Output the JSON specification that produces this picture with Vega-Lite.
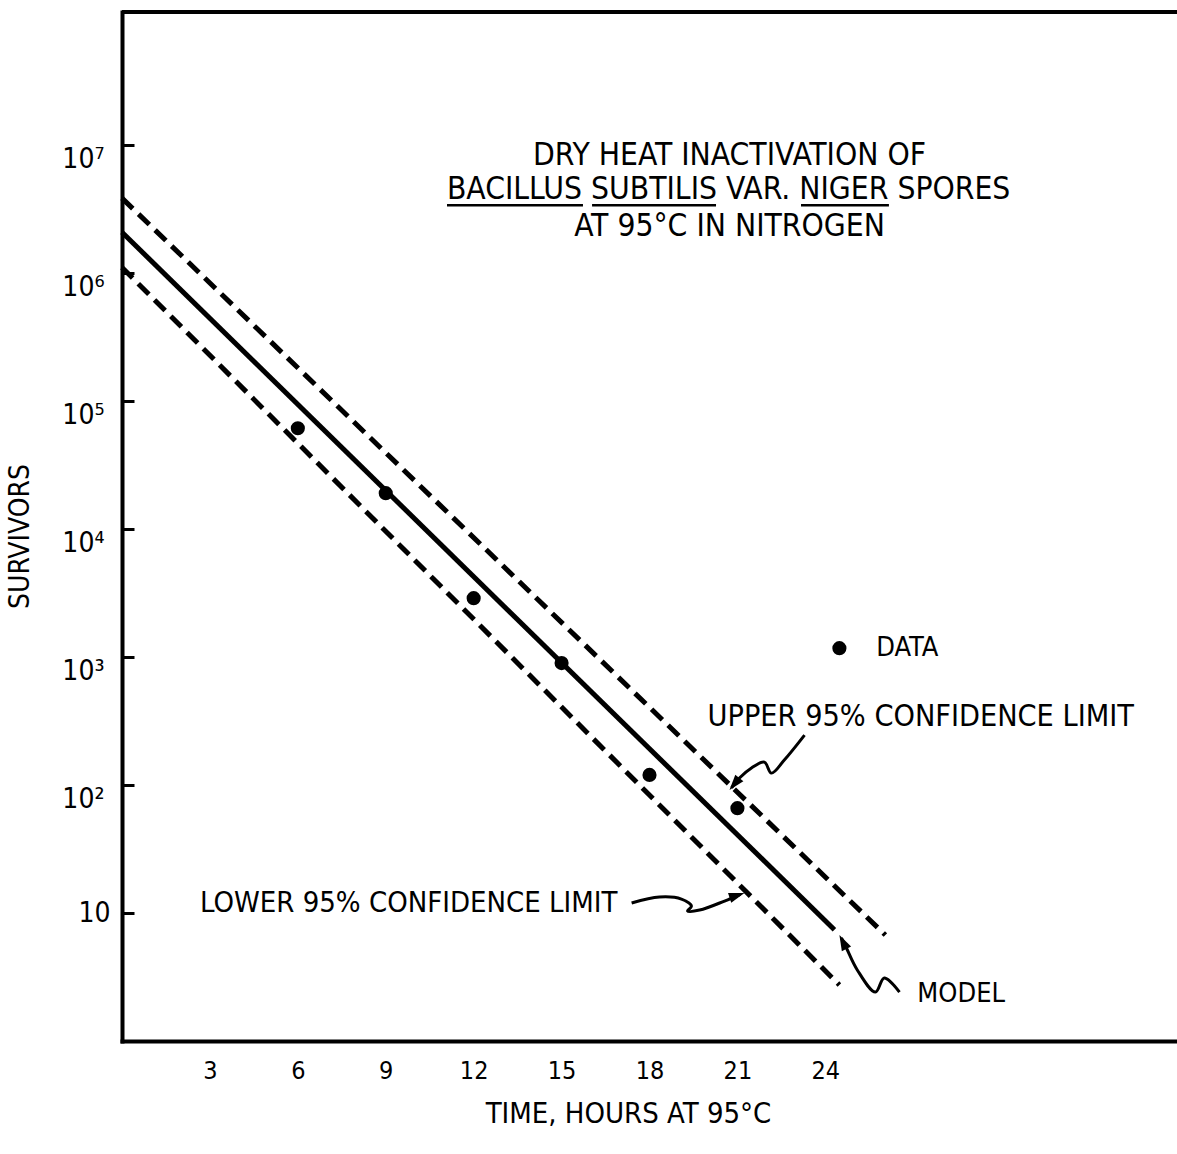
{
  "$schema": "https://vega.github.io/schema/vega-lite/v6.json",
  "width": 1055,
  "height": 1029,
  "autosize": {"type": "none"},
  "padding": {"left": 122, "top": 12, "right": 0, "bottom": 113},
  "background": "white",
  "config": {"view": {"stroke": null}, "font": "DejaVu Sans Condensed"},
  "datasets": {
    "fit": [
      {"series": "upper", "time": 0, "survivors": 3860000},
      {"series": "upper", "time": 26.05, "survivors": 6.73},
      {"series": "lower", "time": 0, "survivors": 1110000},
      {"series": "lower", "time": 24.48, "survivors": 2.74},
      {"series": "model", "time": 0, "survivors": 2090000},
      {"series": "model", "time": 24.31, "survivors": 7.4}
    ],
    "observed": [
      {"time": 6, "survivors": 61500},
      {"time": 9, "survivors": 19100},
      {"time": 12, "survivors": 2890},
      {"time": 15, "survivors": 898},
      {"time": 18, "survivors": 120},
      {"time": 21, "survivors": 66}
    ],
    "legend": [{"time": 24.48, "survivors": 1175}],
    "arrows": [
      {"arrow": "upper", "seq": 1, "time": 23.29, "survivors": 246},
      {"arrow": "upper", "seq": 2, "time": 22.6, "survivors": 157},
      {"arrow": "upper", "seq": 3, "time": 22.16, "survivors": 124},
      {"arrow": "upper", "seq": 4, "time": 21.92, "survivors": 151},
      {"arrow": "upper", "seq": 5, "time": 21.48, "survivors": 136},
      {"arrow": "upper", "seq": 6, "time": 21.07, "survivors": 113.5},
      {"arrow": "upper", "seq": 7, "time": 20.8, "survivors": 95},
      {"arrow": "lower", "seq": 1, "time": 17.39, "survivors": 11.97},
      {"arrow": "lower", "seq": 2, "time": 18.34, "survivors": 13.34},
      {"arrow": "lower", "seq": 3, "time": 19.09, "survivors": 12.86},
      {"arrow": "lower", "seq": 4, "time": 19.43, "survivors": 11.35},
      {"arrow": "lower", "seq": 5, "time": 19.3, "survivors": 10.37},
      {"arrow": "lower", "seq": 6, "time": 19.71, "survivors": 10.55},
      {"arrow": "lower", "seq": 7, "time": 20.56, "survivors": 12.41},
      {"arrow": "lower", "seq": 8, "time": 21.1, "survivors": 14.0},
      {"arrow": "model", "seq": 1, "time": 26.53, "survivors": 2.41},
      {"arrow": "model", "seq": 2, "time": 26.01, "survivors": 3.11},
      {"arrow": "model", "seq": 3, "time": 25.71, "survivors": 2.41},
      {"arrow": "model", "seq": 4, "time": 25.09, "survivors": 3.59},
      {"arrow": "model", "seq": 5, "time": 24.72, "survivors": 5.33},
      {"arrow": "model", "seq": 6, "time": 24.55, "survivors": 6.4}
    ],
    "heads": [
      {"arrow": "upper", "time": 20.73, "survivors": 91.4},
      {"arrow": "lower", "time": 21.24, "survivors": 14.33},
      {"arrow": "model", "time": 24.48, "survivors": 6.73}
    ],
    "titleLines": [
      {"label": "DRY HEAT INACTIVATION OF", "time": 20.73, "survivors": 8200000},
      {"label": "BACILLUS SUBTILIS VAR. NIGER SPORES", "time": 20.7, "survivors": 4450000},
      {"label": "AT 95°C IN NITROGEN", "time": 20.73, "survivors": 2290000}
    ],
    "underlines": [
      {"word": "BACILLUS", "time": 11.09, "time2": 15.73, "survivors": 3400000},
      {"word": "SUBTILIS", "time": 16.04, "time2": 20.27, "survivors": 3400000},
      {"word": "NIGER", "time": 23.17, "time2": 26.17, "survivors": 3400000}
    ],
    "upperNote": [
      {"label": "UPPER 95% CONFIDENCE LIMIT", "time": 19.98, "survivors": 340}
    ],
    "lowerNote": [
      {"label": "LOWER 95% CONFIDENCE LIMIT", "time": 2.66, "survivors": 11.97}
    ],
    "smallNotes": [
      {"label": "DATA", "time": 25.74, "survivors": 1175},
      {"label": "MODEL", "time": 27.14, "survivors": 2.33}
    ],
    "frame": [{"time": 0, "time2": 36, "survivors": 110000000}]
  },
  "encoding": {
    "x": {
      "field": "time",
      "type": "quantitative",
      "scale": {"domain": [0, 36], "nice": false, "zero": false},
      "axis": {
        "values": [3, 6, 9, 12, 15, 18, 21, 24],
        "ticks": false,
        "grid": false,
        "domain": true,
        "domainColor": "black",
        "domainWidth": 4,
        "domainCap": "square",
        "labelFontSize": 25,
        "labelColor": "black",
        "labelPadding": 17,
        "labelOverlap": false,
        "labelFlush": false,
        "title": "TIME, HOURS AT 95°C",
        "titleFontSize": 29,
        "titleFontWeight": "normal",
        "titleColor": "black",
        "titleX": 506,
        "titleY": 72,
        "titleBaseline": "middle",
        "titleAlign": "center"
      }
    },
    "y": {
      "field": "survivors",
      "type": "quantitative",
      "scale": {"type": "log", "domain": [1, 110000000], "nice": false},
      "axis": {
        "values": [10, 100, 1000, 10000, 100000, 1000000, 10000000],
        "labelExpr": "datum.value == 10 ? '10' : '10' + ['⁰','¹','²','³','⁴','⁵','⁶','⁷','⁸'][round(log(datum.value)/LN10)]",
        "ticks": true,
        "tickSize": -12,
        "tickWidth": 3,
        "tickColor": "black",
        "grid": false,
        "domain": true,
        "domainColor": "black",
        "domainWidth": 4,
        "domainCap": "square",
        "labelFontSize": 28,
        "labelColor": "black",
        "labelPadding": {"condition": {"test": "datum.value > 10", "value": 30}, "value": 24},
        "labelOverlap": false,
        "labelFlush": false,
        "labelOffset": {"condition": {"test": "datum.value > 10", "value": 14}, "value": 0},
        "title": "SURVIVORS",
        "titleFontSize": 28,
        "titleFontWeight": "normal",
        "titleColor": "black",
        "titleAngle": -90,
        "titleX": -102,
        "titleY": 524,
        "titleBaseline": "middle",
        "titleAlign": "center"
      }
    }
  },
  "layer": [
    {
      "data": {"name": "frame"},
      "mark": {"type": "rule", "strokeWidth": 4, "color": "black"},
      "encoding": {"x2": {"field": "time2"}}
    },
    {
      "data": {"name": "fit"},
      "transform": [{"filter": "datum.series != 'model'"}],
      "mark": {"type": "line", "strokeWidth": 5, "strokeDash": [15, 8], "color": "black"},
      "encoding": {"detail": {"field": "series"}}
    },
    {
      "data": {"name": "fit"},
      "transform": [{"filter": "datum.series == 'model'"}],
      "mark": {"type": "line", "strokeWidth": 5, "color": "black"},
      "encoding": {}
    },
    {
      "data": {"name": "observed"},
      "mark": {"type": "point", "filled": true, "size": 200, "color": "black", "opacity": 1},
      "encoding": {}
    },
    {
      "data": {"name": "legend"},
      "mark": {"type": "point", "filled": true, "size": 200, "color": "black", "opacity": 1},
      "encoding": {}
    },
    {
      "data": {"name": "arrows"},
      "mark": {"type": "line", "strokeWidth": 3, "color": "black", "interpolate": "catmull-rom"},
      "encoding": {
        "detail": {"field": "arrow"},
        "order": {"field": "seq", "type": "quantitative"}
      }
    },
    {
      "data": {"name": "heads"},
      "transform": [{"filter": "datum.arrow == 'upper'"}],
      "mark": {"type": "point", "shape": "M0,0L0.6,1.8L-0.6,1.8Z", "filled": true, "size": 300, "color": "black", "opacity": 1, "angle": 219},
      "encoding": {}
    },
    {
      "data": {"name": "heads"},
      "transform": [{"filter": "datum.arrow == 'lower'"}],
      "mark": {"type": "point", "shape": "M0,0L0.6,1.8L-0.6,1.8Z", "filled": true, "size": 300, "color": "black", "opacity": 1, "angle": 72},
      "encoding": {}
    },
    {
      "data": {"name": "heads"},
      "transform": [{"filter": "datum.arrow == 'model'"}],
      "mark": {"type": "point", "shape": "M0,0L0.6,1.8L-0.6,1.8Z", "filled": true, "size": 300, "color": "black", "opacity": 1, "angle": 333},
      "encoding": {}
    },
    {
      "data": {"name": "titleLines"},
      "mark": {"type": "text", "fontSize": 31.5, "align": "center", "baseline": "middle", "color": "black"},
      "encoding": {"text": {"field": "label"}}
    },
    {
      "data": {"name": "underlines"},
      "mark": {"type": "rule", "strokeWidth": 2.5, "color": "black"},
      "encoding": {"x2": {"field": "time2"}}
    },
    {
      "data": {"name": "upperNote"},
      "mark": {"type": "text", "fontSize": 30.3, "align": "left", "baseline": "middle", "color": "black"},
      "encoding": {"text": {"field": "label"}}
    },
    {
      "data": {"name": "lowerNote"},
      "mark": {"type": "text", "fontSize": 29, "align": "left", "baseline": "middle", "color": "black"},
      "encoding": {"text": {"field": "label"}}
    },
    {
      "data": {"name": "smallNotes"},
      "mark": {"type": "text", "fontSize": 27, "align": "left", "baseline": "middle", "color": "black"},
      "encoding": {"text": {"field": "label"}}
    }
  ]
}
